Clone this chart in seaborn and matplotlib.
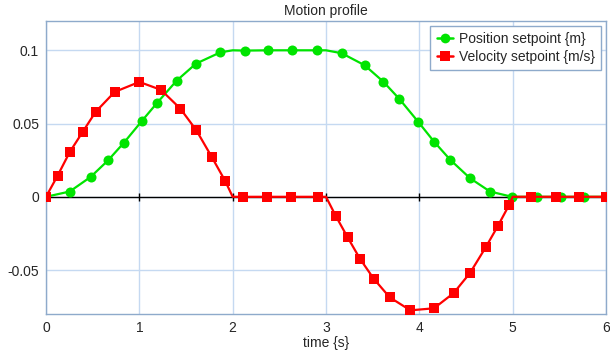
import numpy as np
import pandas as pd
import matplotlib
matplotlib.use("Agg")
import matplotlib.pyplot as plt
import seaborn as sns
from matplotlib.lines import Line2D

# Marker points (time in s)
pos_mark_t = [0.254, 0.479, 0.664, 0.836, 1.025, 1.193, 1.400, 1.607, 1.868,
              2.129, 2.382, 2.639, 2.907, 3.168, 3.414, 3.614, 3.786, 3.989,
              4.157, 4.332, 4.543, 4.757, 4.993, 5.257, 5.514, 5.768]
pos_mark_v = [0.0036, 0.0136, 0.0248, 0.0370, 0.0516, 0.0643, 0.0793, 0.0909, 0.0986,
              0.0998, 0.1, 0.1, 0.1, 0.0980, 0.0898, 0.0786, 0.0668, 0.0511,
              0.0377, 0.0252, 0.0127, 0.0036, 0.0, 0.0, 0.0, 0.0]
# extra points where the curve turns (no marker)
pos_corner_t = [0.0, 2.0, 3.0, 5.0, 6.0]
pos_corner_v = [0.0, 0.1, 0.1, 0.0, 0.0]

vel_mark_t = [0.0, 0.125, 0.254, 0.393, 0.532, 0.736, 1.000, 1.232, 1.439, 1.610,
              1.775, 1.920, 2.114, 2.371, 2.629, 2.918, 3.104, 3.232, 3.364, 3.511,
              3.682, 3.904, 4.157, 4.368, 4.543, 4.711, 4.839, 4.961, 5.196, 5.461,
              5.714, 5.996]
vel_mark_v = [0.0, 0.0145, 0.0305, 0.0443, 0.0580, 0.0716, 0.0784, 0.0730, 0.0602, 0.0455,
              0.0273, 0.0108, 0.0, 0.0, 0.0, 0.0, -0.0130, -0.0277, -0.0423, -0.0559,
              -0.0686, -0.0775, -0.0761, -0.0657, -0.0520, -0.0345, -0.0202, -0.0057, 0.0, 0.0,
              0.0, 0.0]
vel_corner_t = [2.0, 3.0, 5.0]
vel_corner_v = [0.0, 0.0, 0.0]

x_ticks = [0, 1, 2, 3, 4, 5, 6]
y_ticks = [-0.05, 0, 0.05, 0.1]
y_tick_labels = ["-0.05", "0", "0.05", "0.1"]

green = "#00e400"
red = "#ff0000"
fs = 10

sns.set_style("white")
plt.rcParams["font.family"] = ["Liberation Sans", "DejaVu Sans"]

fig = plt.figure(figsize=(6.1, 3.55), dpi=100)
ax = fig.add_axes([46 / 610, 1 - 314 / 355, 560 / 610, 293 / 355])

pos_line = pd.DataFrame({"t": pos_mark_t + pos_corner_t,
                         "v": pos_mark_v + pos_corner_v}).sort_values("t")
vel_line = pd.DataFrame({"t": vel_mark_t + vel_corner_t,
                         "v": vel_mark_v + vel_corner_v}).sort_values("t")

# zero axis line with small ticks
ax.axhline(0, color="black", lw=1, zorder=1)
ax.plot(x_ticks[1:-1], [0] * 5, ls="none", marker="|", ms=6, mew=1, color="black", zorder=1)

sns.lineplot(data=pos_line, x="t", y="v", sort=False, color=green, lw=1.6, ax=ax, zorder=2)
sns.scatterplot(x=pos_mark_t, y=pos_mark_v, color=green, marker="o", s=52, linewidth=0, ax=ax, zorder=3)
sns.lineplot(data=vel_line, x="t", y="v", sort=False, color=red, lw=1.6, ax=ax, zorder=4)
sns.scatterplot(x=vel_mark_t, y=vel_mark_v, color=red, marker="s", s=58, linewidth=0, ax=ax, zorder=5)

ax.set_xlim(0, 6)
ax.set_ylim(-0.08, 0.12)
ax.set_xticks(x_ticks)
ax.set_yticks(y_ticks)
ax.set_yticklabels(y_tick_labels)
ax.tick_params(length=0, labelsize=fs, pad=5)
ax.grid(True, color="#c5d9f1", lw=1)
ax.set_axisbelow(True)
for s in ax.spines.values():
    s.set_color("#8eaacb")
    s.set_linewidth(1)

ax.set_xlabel("time {s}", fontsize=fs, labelpad=1)
ax.set_ylabel("")
ax.set_title("Motion profile", fontsize=fs, pad=4)

handles = [Line2D([], [], color=green, lw=1.8, marker="o", ms=7, mew=0),
           Line2D([], [], color=red, lw=1.8, marker="s", ms=7, mew=0)]
leg = ax.legend(handles, ["Position setpoint {m}", "Velocity setpoint {m/s}"],
                loc="upper right", fontsize=fs, fancybox=False, framealpha=1,
                edgecolor="#8eaacb", borderaxespad=0.35, handlelength=1.2,
                handletextpad=0.4, labelspacing=0.25, borderpad=0.45)
leg.get_frame().set_linewidth(1)

fig.savefig("out.png", dpi=100)
